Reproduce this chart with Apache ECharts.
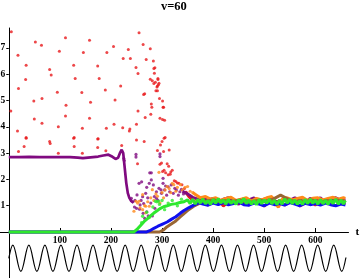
<!DOCTYPE html>
<html><head><meta charset="utf-8">
<script src="https://cdn.jsdelivr.net/npm/echarts@6/dist/echarts.min.js"></script>
<style>html,body{margin:0;padding:0;background:#fff}#c{width:360px;height:278px}</style>
</head><body><div id="c"></div>
<script>
const titleText = 'v=60';
const xTickValues = [100, 200, 300, 400, 500, 600];
const yTickValues = [1, 2, 3, 4, 5, 6, 7];

const redPts = [[5,7.62],[18,6.72],[34,6.34],[19,5.46],[33,5.8],[52,7.23],[64,7.1],[49,4.98],[65,5.08],[80,6.18],[83,5.97],[99,6.88],[111,7.39],[95,5.32],[112,4.82],[127,6.34],[130,5.84],[111,4.41],[50,4.3],[65,4.14],[97,4.0],[17,3.84],[34,3.59],[4,4.6],[128,3.59],[144,3.95],[158,7.29],[146,6.83],[143,5.31],[160,4.94],[158,4.33],[175,3.55],[174,6.31],[177,5.84],[192,6.83],[205,7.06],[189,5.4],[208,5.02],[191,3.95],[206,4.1],[219,5.55],[224,6.6],[234,6.94],[238,6.6],[223,3.97],[236,3.84],[237,3.92],[249,6.26],[253,6.03],[250,4.1],[253,4.6],[255,7.58],[263,7.13],[269,6.56],[277,6.97],[267,4.36],[264,5.23],[266,5.26],[277,5.81],[278,4.48],[279,4.87],[280,4.75],[283,6.5],[284,6.22],[286,6.25],[285,6.04],[281,5.75],[284,5.65],[287,5.7],[292,5.84],[292,5.8],[291,5.55],[290,5.52],[288,5.37],[291,5.37],[293,5.6],[294,5.66],[301,4.98],[302,4.75],[303,4.75],[295,5.08],[296,4.33],[301,4.28],[305,4.25],[306,3.59],[19,3.06],[34,3.57],[30,3.25],[80,3.44],[81,3.37],[97,3.0],[127,3.57],[128,3.25],[144,3.0],[174,3.54],[174,3.21],[190,3.09],[221,3.29],[250,3.5],[265,3.44],[252,2.6],[297,3.31],[300,3.44],[304,3.57],[291,3.1],[303,3.06],[299,2.62],[296,2.58],[301,2.3],[304,2.35],[307,2.25],[312,2.18],[314,3.12],[310,2.6],[313,2.5],[317,2.28],[320,2.35],[316,2.2],[324,1.95],[327,1.92],[330,1.86],[333,1.85],[339,1.8],[344,1.65],[348,1.5]];
const redBand = [[345,1.55],[352,1.35],[360,1.2],[370,1.1],[380,1.18],[390,1.02],[400,1.12],[410,1.2],[420,0.98],[430,1.15],[440,1.08],[450,1.2],[460,1.12],[470,1.02],[480,1.18],[490,1.1],[500,0.98],[510,1.15],[520,1.08],[530,1.2],[540,1.02],[550,1.12],[560,1.18],[570,0.98],[580,1.1],[590,1.15],[600,1.02],[610,1.12],[620,1.2],[630,1.06],[640,1.0],[650,1.12],[659,1.06]];

const purpleLine = [[0,2.85],[20,2.85],[40,2.86],[60,2.85],[80,2.85],[100,2.85],[120,2.85],[135,2.83],[145,2.81],[155,2.83],[165,2.85],[175,2.87],[185,2.91],[195,2.94],[203,2.86],[209,2.78],[214,2.82],[218,3.02],[221,3.13],[224,3.0],[226,2.62],[228,2.24],[230,1.86],[233,1.48],[236,1.3],[240,1.17],[244,1.12]];
const purplePts = [[225,2.8],[226,2.72],[240,1.28],[243,1.15],[247,1.2],[249,2.95],[249,2.85],[250,0.9],[251,1.41],[255,1.85],[256,0.87],[257,1.03],[260,1.91],[262,1.34],[263,0.71],[264,1.08],[266,0.52],[268,1.47],[270,0.77],[270,1.7],[273,0.61],[276,2.25],[279,2.25],[279,1.98],[275,1.85],[283,1.79],[281,0.61],[286,0.9],[289,1.53],[289,1.28],[294,1.66],[296,2.97],[296,2.87],[299,1.47],[302,1.85],[302,2.04],[305,1.6],[309,1.4],[312,1.72],[315,1.53],[318,1.79],[322,1.47],[325,1.66],[328,1.6],[332,1.4],[335,1.53],[338,1.62],[342,1.45],[246,0.95],[259,1.2],[272,1.3],[278,1.1],[285,1.35],[292,1.2],[298,1.6],[307,1.75]];
const purpleBand = [[340,1.55],[350,1.45],[360,1.32],[370,1.25],[380,1.3],[390,1.2],[400,1.28],[410,1.12],[420,1.25],[430,1.3],[440,1.2],[450,1.05],[460,1.28],[470,1.22],[480,1.3],[490,1.15],[500,1.25],[510,1.3],[520,1.2],[530,1.08],[540,1.28],[550,1.2],[560,1.3],[570,1.22],[580,1.1],[590,1.28],[600,1.2],[610,1.3],[620,1.12],[630,1.25],[640,1.3],[650,1.2],[659,1.25]];

const orangePts = [[245,0.79],[249,1.17],[252,1.1],[255,1.17],[257,0.92],[262,1.42],[262,0.85],[266,1.0],[268,0.73],[268,0.98],[272,1.15],[275,0.98],[278,1.3],[281,1.61],[284,1.2],[288,1.45],[291,1.36],[294,2.27],[296,1.1],[300,1.5],[303,1.3],[306,1.6],[310,1.73],[314,1.65],[317,1.5],[320,1.85],[323,1.8],[327,1.55],[330,1.7],[336,1.8],[340,1.6],[345,1.7],[350,1.73],[355,1.55],[360,1.5]];
const orangeBand = [[360,1.5],[366,1.42],[375,1.3],[385,1.35],[395,1.25],[405,1.3],[415,1.2],[425,1.28],[435,1.32],[445,1.2],[455,1.25],[465,1.3],[475,1.18],[485,1.28],[495,1.22],[505,1.3],[515,1.35],[522,1.05],[528,0.95],[535,1.25],[545,1.3],[555,1.22],[565,1.28],[575,1.32],[585,1.2],[595,1.28],[605,1.3],[615,1.22],[625,1.28],[635,1.32],[645,1.25],[655,1.3],[659,1.28]];

const brownLine = [[0,0],[295,0],[303,0.08],[310,0.2],[318,0.3],[327,0.42],[336,0.58],[343,0.7],[352,0.85],[362,0.98],[372,1.08],[382,1.15],[392,1.2],[402,1.22],[412,1.16],[422,1.2],[432,1.15],[442,1.18],[452,1.22],[462,1.16],[472,1.12],[482,1.18],[492,1.22],[502,1.15],[512,1.2],[522,1.3],[532,1.4],[542,1.3],[552,1.2],[562,1.15],[572,1.2],[582,1.16],[592,1.22],[602,1.18],[612,1.14],[622,1.2],[632,1.16],[642,1.22],[652,1.18],[659,1.15]];

const blueLine = [[0,0],[270,0],[276,0.05],[284,0.14],[292,0.22],[301,0.3],[310,0.38],[318,0.48],[327,0.58],[336,0.72],[343,0.82],[352,0.92],[362,1.02],[372,1.12],[380,1.06],[390,1.02],[400,1.1],[410,1.04],[420,1.12],[430,1.03],[440,1.08],[450,1.14],[460,1.04],[470,1.02],[480,1.1],[490,1.06],[500,1.0],[510,1.1],[520,1.04],[530,1.08],[540,1.02],[550,1.12],[560,1.06],[570,1.0],[580,1.09],[590,1.04],[600,1.08],[610,1.02],[620,1.1],[630,1.04],[640,1.0],[650,1.06],[659,1.03]];

const greenPts = [[260,0.35],[262,0.6],[270,0.75],[275,0.55],[282,0.95],[287,1.17],[290,1.15],[293,1.17],[295,1.05],[300,1.2],[305,0.85],[312,1.1],[320,1.2],[330,1.0],[338,1.25]];
const greenLine = [[0,0],[245,0],[252,0.12],[258,0.25],[265,0.4],[271,0.5],[278,0.62],[284,0.72],[291,0.82],[297,0.9],[303,0.96],[310,1.0],[318,1.05],[327,1.08],[335,1.12],[343,1.15],[350,1.22],[355,1.08],[360,1.25],[365,1.06],[370,1.24],[375,1.1],[380,1.26],[385,1.07],[390,1.2],[395,1.05],[400,1.24],[405,1.09],[410,1.27],[415,1.1],[420,1.22],[425,1.06],[430,1.25],[435,1.08],[440,1.2],[445,1.05],[450,1.23],[455,1.1],[460,1.28],[465,1.08],[470,1.22],[475,1.06],[480,1.2],[485,1.04],[490,1.24],[495,1.08],[500,1.22],[505,1.1],[510,1.25],[515,1.07],[520,1.21],[525,1.05],[530,1.22],[535,1.06],[540,1.26],[545,1.1],[550,1.24],[555,1.08],[560,1.22],[565,1.06],[570,1.2],[575,1.05],[580,1.24],[585,1.08],[590,1.25],[595,1.09],[600,1.22],[605,1.06],[610,1.24],[615,1.07],[620,1.21],[625,1.05],[630,1.23],[635,1.08],[640,1.25],[645,1.06],[650,1.22],[655,1.07],[659,1.2]];

const waveT = [0,7.9,23.6,39.3,55.0,70.7,86.4,102.1,117.8,133.5,149.2,164.9,180.6,196.4,212.1,227.8,243.5,259.2,274.9,290.6,306.3,322.0,337.7,353.4,369.1,384.8,400.6,416.3,432.0,447.7,463.4,479.1,494.8,510.5,526.2,541.9,557.6,573.3,589.0,604.7,620.4,636.1,651.8,660];
const waveY = [-1.0,-0.5,-1.5,-0.5,-1.5,-0.5,-1.5,-0.5,-1.5,-0.5,-1.5,-0.5,-1.5,-0.5,-1.5,-0.5,-1.5,-0.5,-1.5,-0.5,-1.5,-0.5,-1.5,-0.5,-1.5,-0.5,-1.5,-0.5,-1.5,-0.5,-1.5,-0.5,-1.5,-0.5,-1.5,-0.5,-1.5,-0.5,-1.5,-0.5,-1.5,-0.5,-1.5,-0.97];

const FONT = '"Liberation Serif", "DejaVu Serif", serif';
const C = {red:'#e8191b', purple:'#800a80', orange:'#ff8a1a', brown:'#9a6634', blue:'#1010ee', green:'#2ee82e'};

// layout
const W = 360, H = 278, GL = 0, GR = 11.5, GT = 28, GB = 0;
const X0 = -17.2, X1 = 665, Y0 = -1.75, Y1 = 7.76;
const gw = W - GL - GR, gh = H - GT - GB;
const xZeroOffset = -gw * (0 - X0) / (X1 - X0);      // move y axis to t = 0
const yZeroOffset = -gh * (0 - Y0) / (Y1 - Y0);      // move x axis to value 0

function scatter(data, color, size){ return {type:'scatter', data, symbol:'circle', symbolSize:size, itemStyle:{color}, silent:true}; }
function line(data, color, width){ return {type:'line', data, showSymbol:false, symbol:'none', lineStyle:{color, width}, silent:true}; }

const chart = echarts.init(document.getElementById('c'), null, {renderer:'canvas'});
chart.setOption({
  animation:false,
  backgroundColor:'#fff',
  title:{text:titleText, left:161, top:0, padding:0, textStyle:{fontFamily:FONT, fontSize:12.5, fontWeight:'bold', color:'#000'}},
  grid:{left:GL, right:GR, top:GT, bottom:GB, containLabel:false, outerBoundsMode:'none'},
  xAxis:{type:'value', min:X0, max:X1, position:'bottom', offset:yZeroOffset, splitLine:{show:false},
    name:'t', nameLocation:'end', nameGap:7, nameTextStyle:{fontFamily:FONT, fontSize:11, fontWeight:'bold', color:'#000', verticalAlign:'middle'},
    axisLine:{onZero:false, lineStyle:{color:'#000', width:1}},
    axisTick:{inside:true, length:4, customValues:xTickValues, lineStyle:{color:'#000'}},
    axisLabel:{customValues:xTickValues, margin:4, fontFamily:FONT, fontSize:9.5, fontWeight:'bold', color:'#000'}},
  yAxis:{type:'value', min:Y0, max:Y1, position:'left', offset:xZeroOffset, splitLine:{show:false},
    axisLine:{show:true, onZero:false, lineStyle:{color:'#000', width:1}},
    axisTick:{show:true, inside:false, length:2.5, customValues:yTickValues, lineStyle:{color:'#000'}},
    axisLabel:{customValues:yTickValues, margin:3.5, fontFamily:FONT, fontSize:9.5, fontWeight:'bold', color:'#000'}},
  series:[
    scatter(redPts, C.red, 3),
    line(redBand, C.red, 2.6),
    line(purpleLine, C.purple, 2.7),
    scatter(purplePts, C.purple, 3.2),
    line(purpleBand, C.purple, 3),
    scatter(orangePts, C.orange, 3.2),
    line(orangeBand, C.orange, 3),
    line(brownLine, C.brown, 3),
    line(blueLine, C.blue, 3),
    scatter(greenPts, C.green, 3.4),
    line(greenLine, C.green, 3),
    {type:'line', data:waveT.map((t,i)=>[t, waveY[i]]), showSymbol:false, symbol:'none', smooth:0.36, lineStyle:{color:'#000', width:1.2}, silent:true}
  ]
});
</script>
</body></html>
